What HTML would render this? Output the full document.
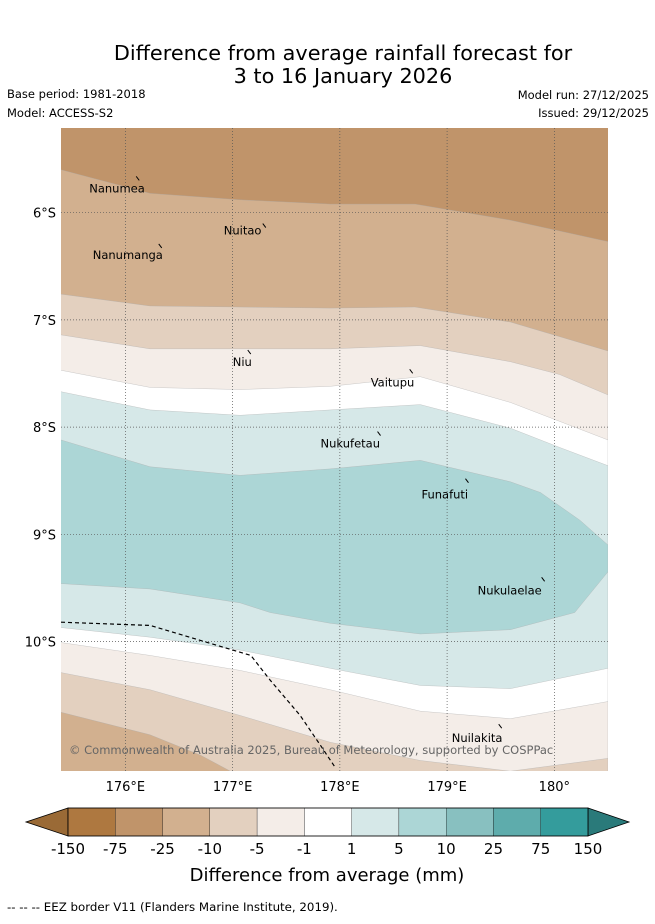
<!DOCTYPE html>
<html><head><meta charset="utf-8"><style>
body{margin:0;background:#fff;width:655px;height:919px;overflow:hidden;font-family:"Liberation Sans","DejaVu Sans",sans-serif}
</style></head><body>
<svg width="655" height="919" viewBox="0 0 655 919" xmlns="http://www.w3.org/2000/svg" font-family="DejaVu Sans, Liberation Sans, sans-serif">
<text x="343" y="60" font-size="20.8" text-anchor="middle">Difference from average rainfall forecast for</text>
<text x="343" y="83" font-size="20.8" text-anchor="middle">3 to 16 January 2026</text>
<text x="7" y="98" font-size="11.5">Base period: 1981-2018</text>
<text x="7" y="117" font-size="11.5">Model: ACCESS-S2</text>
<text x="649" y="99" font-size="11.5" text-anchor="end">Model run: 27/12/2025</text>
<text x="649" y="117" font-size="11.5" text-anchor="end">Issued: 29/12/2025</text>
<defs><clipPath id="pc"><rect x="61" y="128" width="547" height="643"/></clipPath></defs>
<g id="plot" clip-path="url(#pc)"></g>
<g id="axes"></g>
<g id="cbar"></g>
<text x="327" y="881" font-size="18" text-anchor="middle">Difference from average (mm)</text>
<text x="7" y="911" font-size="11.8">-- -- -- EEZ border V11 (Flanders Marine Institute, 2019).</text>
</svg>
<script>
const lonTicks=[176,177,178,179,180];
const latTicks=[6,7,8,9,10];
const lonTickLabels=["176°E","177°E","178°E","179°E","180°"];
const latTickLabels=["6°S","7°S","8°S","9°S","10°S"];
// contour boundaries: [lon, lat(°S)]
const bUpper1=[[175.40,5.60],[176.23,5.82],[177.07,5.88],[177.91,5.92],[178.70,5.92],[179.59,6.07],[180.50,6.27]];
const bUpper2=[[175.40,6.76],[176.23,6.87],[177.91,6.89],[178.70,6.88],[179.59,7.02],[180.50,7.29]];
const bUpper3=[[175.40,7.14],[176.23,7.27],[177.91,7.27],[178.75,7.24],[179.59,7.39],[180.05,7.51],[180.50,7.70]];
const bUpper4=[[175.40,7.47],[176.23,7.63],[177.07,7.65],[177.91,7.62],[178.75,7.53],[179.59,7.77],[180.50,8.12]];
const bUpper5=[[175.40,7.67],[176.23,7.84],[177.07,7.89],[177.91,7.84],[178.75,7.79],[179.59,8.01],[180.05,8.19],[180.50,8.36]];
const bUpper6=[[175.40,8.12],[176.23,8.37],[177.07,8.45],[177.91,8.39],[178.75,8.31],[179.59,8.51],[179.87,8.61],[180.24,8.87],[180.50,9.10]];
const bLower1=[[175.40,9.46],[176.23,9.51],[177.07,9.64],[177.35,9.73],[177.91,9.83],[178.75,9.93],[179.59,9.89],[180.19,9.73],[180.50,9.35]];
const bLower2=[[175.40,9.87],[176.23,9.96],[177.07,10.08],[177.91,10.25],[178.75,10.41],[179.59,10.44],[180.50,10.25]];
const bLower3=[[175.40,10.01],[176.23,10.13],[177.07,10.27],[177.91,10.45],[178.75,10.65],[179.59,10.72],[180.50,10.56]];
const bLower4=[[175.40,10.29],[176.23,10.45],[177.07,10.69],[177.91,10.94],[178.75,11.11],[179.59,11.21],[180.50,11.09]];
const bLower5=[[175.40,10.66],[176.23,10.87],[176.70,11.06],[176.98,11.21]];
const eez=[[175.40,9.82],[176.23,9.85],[176.70,9.99],[177.17,10.13],[177.35,10.36],[177.63,10.69],[177.82,10.97],[177.96,11.18]];
const towns=["Nanumea","Nuitao","Nanumanga","Niu","Vaitupu","Nukufetau","Funafuti","Nukulaelae","Nuilakita"];
const townLon=[176.12,177.30,176.33,177.16,178.67,178.37,179.19,179.90,179.50];
const townLat=[5.68,6.12,6.31,7.30,7.48,8.06,8.50,9.42,10.79];
const townLabelDx=[-49,-41,-68,-17,-41,-59,-46,-66,-49];
const townLabelDy=[14,9,13,14,15,14,18,15,16];
const cbLabels=["-150","-75","-25","-10","-5","-1","1","5","10","25","75","150"];
const cbColors=["#ae7840","#c0946a","#d2b08f","#e3d0bf","#f4ede8","#ffffff","#d6e8e8","#acd6d6","#88c0c0","#5eacac","#349c9c"];
const NS="http://www.w3.org/2000/svg";
const X=lon=>61+(lon-175.4)*107.25, Y=lat=>128+(lat-5.21)*107.2;
function mk(t,a,p){const e=document.createElementNS(NS,t);for(const k in a)e.setAttribute(k,a[k]);p.appendChild(e);return e;}
const plot=document.getElementById('plot'),axes=document.getElementById('axes'),cb=document.getElementById('cbar');
let bg=mk('rect',{x:61,y:128,width:547,height:643,fill:'#c0946a'},plot);


const bands=[[bUpper1,'#d2b08f'],[bUpper2,'#e3d0bf'],[bUpper3,'#f4ede8'],[bUpper4,'#ffffff'],[bUpper5,'#d6e8e8'],[bUpper6,'#acd6d6'],[bLower1,'#d6e8e8'],[bLower2,'#ffffff'],[bLower3,'#f4ede8'],[bLower4,'#e3d0bf'],[bLower5,'#d2b08f']];
bands.forEach((b,i)=>{
 const pts=b[0].map(p=>X(p[0])+','+Y(p[1]));
 const last=b[0][b[0].length-1];
 pts.push(X(last[0])+',780');pts.push('50,780');pts.push('50,'+Y(b[0][0][1]));
 const pg=mk('polygon',{points:pts.join(' '),fill:b[1],stroke:'#aaa','stroke-width':0.3},plot);
 
 
});
lonTicks.forEach((l,i)=>{
 const g=mk('line',{x1:X(l),x2:X(l),y1:128,y2:771,stroke:'#555','stroke-width':0.7,'stroke-dasharray':'1,2'},plot);
 
 
 const t=mk('text',{x:X(l),y:791,'font-size':13,'text-anchor':'middle'},axes);t.textContent=lonTickLabels[i];
 
 
});
latTicks.forEach((l,i)=>{
 const g=mk('line',{x1:61,x2:608,y1:Y(l),y2:Y(l),stroke:'#555','stroke-width':0.7,'stroke-dasharray':'1,2'},plot);
 
 
 const t=mk('text',{x:56,y:Y(l)+5,'font-size':13,'text-anchor':'end'},axes);t.textContent=latTickLabels[i];
 
 
});
const ez=mk('polyline',{points:eez.map(p=>X(p[0])+','+Y(p[1])).join(' '),fill:'none',stroke:'#000','stroke-width':1.2,'stroke-dasharray':'4,3'},plot);


towns.forEach((n,i)=>{
 const x=X(townLon[i]),y=Y(townLat[i]);
 const m=mk('line',{x1:x-2,y1:y-2,x2:x+1,y2:y+2,stroke:'#000','stroke-width':1},plot);
 
 
 const t=mk('text',{x:x+townLabelDx[i],y:y+townLabelDy[i],'font-size':11.5},plot);t.textContent=n;
 
 
});
const cp=mk('text',{x:69,y:754,'font-size':11.5,fill:'#666'},plot);cp.textContent='© Commonwealth of Australia 2025, Bureau of Meteorology, supported by COSPPac';


// colorbar
const cx0=68,cx1=588,cy0=808,cy1=836,w=(cx1-cx0)/cbColors.length;
const lt=mk('polygon',{points:`${cx0},${cy0} 26,822 ${cx0},${cy1}`,fill:'#9a6a36',stroke:'#000','stroke-width':0.8},cb);


const rt=mk('polygon',{points:`${cx1},${cy0} 629,822 ${cx1},${cy1}`,fill:'#2a7a7a',stroke:'#000','stroke-width':0.8},cb);


cbColors.forEach((c,i)=>{
 const r=mk('rect',{x:cx0+i*w,y:cy0,width:w,height:cy1-cy0,fill:c,stroke:'#000','stroke-width':0.3},cb);
 
 
});
mk('rect',{x:cx0,y:cy0,width:cx1-cx0,height:cy1-cy0,fill:'none',stroke:'#000','stroke-width':0.8},cb);
cbLabels.forEach((l,i)=>{
 const t=mk('text',{x:cx0+i*w,y:854,'font-size':15,'text-anchor':'middle'},cb);t.textContent=l;
 
 
});
</script>
</body></html>
